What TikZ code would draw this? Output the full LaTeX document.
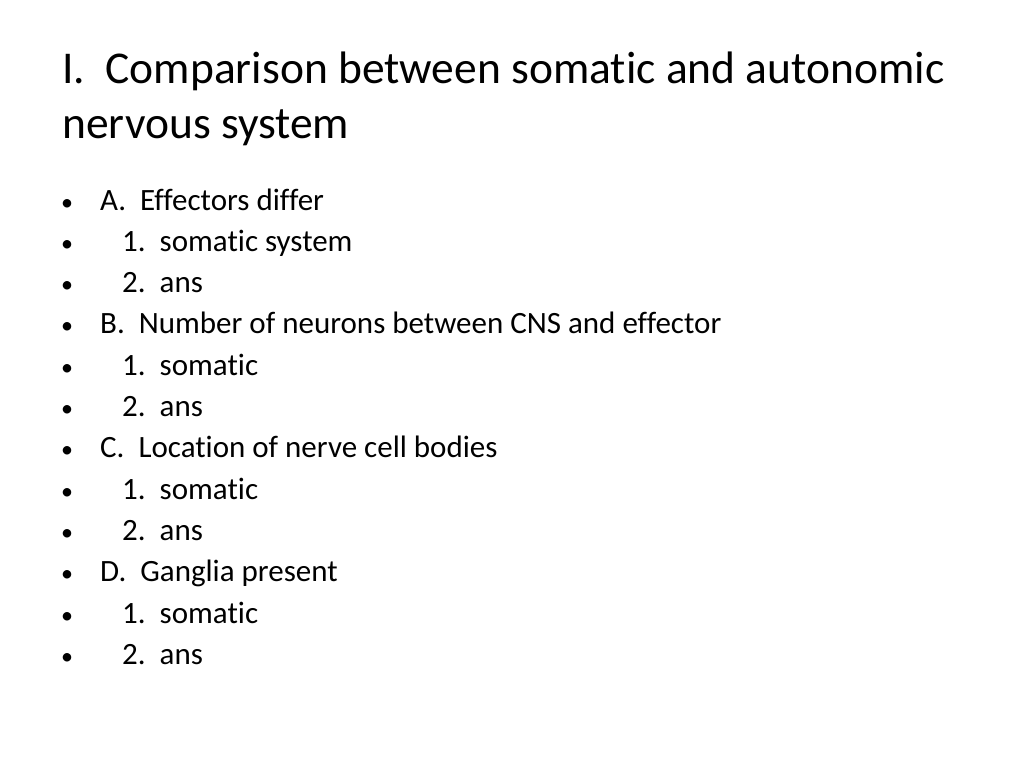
\documentclass[tikz,border=0pt]{standalone}
\usepackage{fontspec}
\setmainfont[Ligatures=NoCommon]{Carlito}
\begin{document}
\begin{tikzpicture}[x=1pt,y=-1pt,
  title/.style={anchor=base west,inner sep=0pt,font=\fontsize{45.5}{54}\selectfont},
  item/.style={anchor=base west,inner sep=0pt,font=\fontsize{31}{37}\selectfont},
  bul/.style={anchor=base west,inner sep=0pt,font=\fontsize{24}{30}\selectfont}]
\useasboundingbox (0,0) rectangle (1024,768);
\node[title] (t1) at (62,83) {I.\ \ Comparison between somatic and autonomic};
\node[title] (t2) at (62,138) {nervous system};
\foreach \i/\x/\t in {0/100/{A.\ \ Effectors differ},1/122/{1.\ \ somatic system},2/122/{2.\ \ ans},
  3/100/{B.\ \ Number of neurons between CNS and effector},4/122/{1.\ \ somatic},5/122/{2.\ \ ans},
  6/100/{C.\ \ Location of nerve cell bodies},7/122/{1.\ \ somatic},8/122/{2.\ \ ans},
  9/100/{D.\ \ Ganglia present},10/122/{1.\ \ somatic},11/122/{2.\ \ ans}}{
  \node[bul] (b\i) at (61,{210+41.3*\i}) {•};
  \node[item] (i\i) at (\x,{210+41.3*\i}) {\t};
}
\end{tikzpicture}
\end{document}
